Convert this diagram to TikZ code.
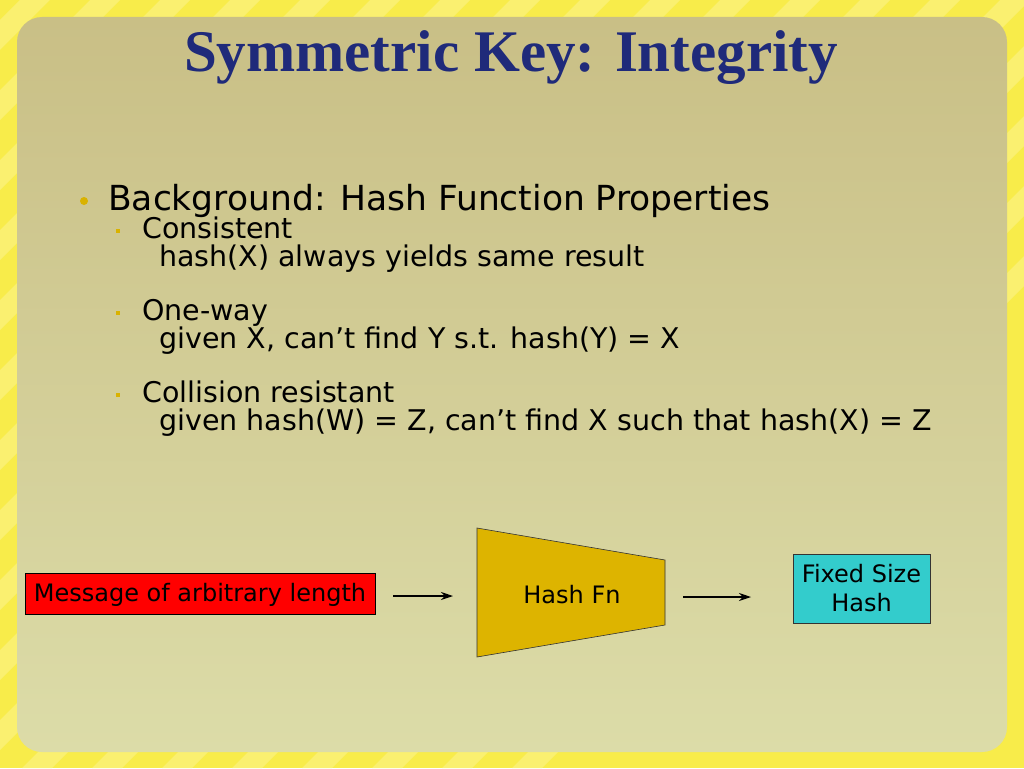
\documentclass[tikz,border=0pt]{standalone}
\usepackage{fontspec}
\setmainfont{DejaVu Sans}
\newfontfamily\titlefont{Liberation Serif}
\usetikzlibrary{arrows.meta}
\definecolor{bgyel}{HTML}{F8EC4A}
\definecolor{stripe}{HTML}{FAF070}
\definecolor{paneltop}{HTML}{C9BF86}
\definecolor{panelbot}{HTML}{DCDCA8}
\definecolor{titleblue}{HTML}{1F2A7A}
\definecolor{gold}{HTML}{D9B200}
\definecolor{hashfill}{HTML}{DDB400}
\definecolor{cyanfill}{HTML}{33CCCC}
\begin{document}
\begin{tikzpicture}[x=1pt,y=-1pt,
  body/.style={anchor=base west,inner sep=0pt,font=\fontsize{28.5}{34}\selectfont},
  lbl/.style={font=\fontsize{24}{29}\selectfont,inner sep=0pt,align=center},
  conn/.style={-{Stealth[length=12pt,width=8pt]},line width=1.2pt},
  sq/.style={fill=gold,minimum size=4pt,inner sep=0pt}]
\useasboundingbox (0,0) rectangle (1024,768);
\fill[bgyel] (0,0) rectangle (1024,768);
\begin{scope}
\clip (0,0) rectangle (1024,768);
\foreach \i in {0,...,24}{
  \fill[stripe] (\i*70-400,0) -- (\i*70-370,0) -- (\i*70-370-768,768) -- (\i*70-400-768,768) -- cycle;}
\end{scope}
\shade[top color=paneltop,bottom color=panelbot,rounded corners=25pt] (17,17) rectangle (1007,752);
\node[font=\titlefont\bfseries\fontsize{59}{62}\selectfont,text=titleblue] (title) at (511,58) {Symmetric Key: Integrity};
\node[circle,fill=gold,minimum size=8pt,inner sep=0pt] (b1) at (84,201) {};
\node[body,font=\fontsize{34.5}{40}\selectfont] (t1) at (108,210) {Background: Hash Function Properties};
\node[sq] (s1) at (118,231) {};
\node[body] (t2) at (142,238) {Consistent};
\node[body] (t2b) at (159,266) {hash(X) always yields same result};
\node[sq] (s2) at (118,313) {};
\node[body] (t3) at (142,320) {One-way};
\node[body] (t3b) at (159,348) {given X, can’t find Y s.t. hash(Y) = X};
\node[sq] (s3) at (118,395) {};
\node[body] (t4) at (142,402) {Collision resistant};
\node[body] (t4b) at (159,430) {given hash(W) = Z, can’t find X such that hash(X) = Z};
\node[draw=black,fill=red,minimum width=350pt,minimum height=41pt] (msg) at (200,594) {};
\node[lbl] (msgt) at (200,595) {Message of arbitrary length};
\draw[fill=hashfill,draw=black!80,line width=0.6pt] (477,528) -- (665,560) -- (665,625) -- (477,657) -- cycle;
\node[lbl] (hash) at (572,595) {Hash Fn};
\node[lbl,draw=black!80,fill=cyanfill,minimum width=137pt,minimum height=69pt] (out) at (861.5,588.5) {Fixed Size\\[0pt]Hash};
\coordinate (a1s) at (393,596); \coordinate (a1e) at (453,596);
\coordinate (a2s) at (683,597); \coordinate (a2e) at (751,597);
\draw[conn] (a1s) -- (a1e);
\draw[conn] (a2s) -- (a2e);
\end{tikzpicture}
\end{document}
